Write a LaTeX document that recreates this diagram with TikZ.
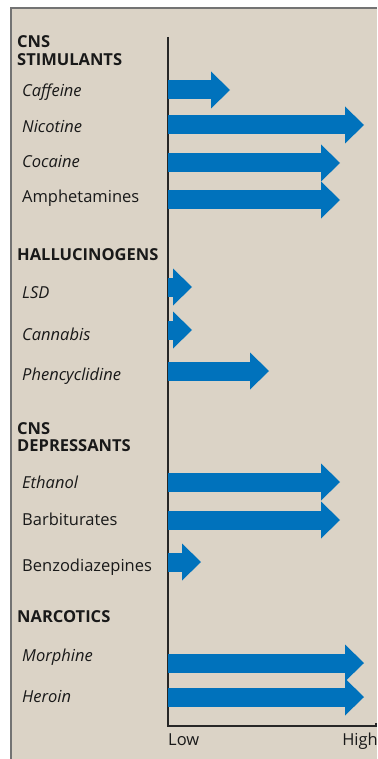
\documentclass[tikz,border=0pt]{standalone}
\usepackage{fontspec}
\setmainfont{Open Sans}
\usepackage{tikz}
\usetikzlibrary{arrows.meta}
\definecolor{panel}{RGB}{219,211,198}
\definecolor{barblue}{RGB}{0,114,188}
\definecolor{ink}{RGB}{25,25,25}
\tikzset{
  hdr/.style={anchor=base west, inner sep=0pt, text=ink, font=\fontsize{16.5}{18}\selectfont\bfseries},
  drug/.style={anchor=base west, inner sep=0pt, text=ink, font=\fontsize{16.5}{18}\selectfont\itshape},
  drugup/.style={anchor=base west, inner sep=0pt, text=ink, font=\fontsize{16.5}{18}\selectfont},
  bar/.style={draw=barblue, line width=19pt, -{Triangle[length=19pt, width=37pt, line width=0pt]}},
  ax/.style={draw=black!85, line width=1.3pt},
  frm/.style={draw=black!55, line width=2pt}
}

\begin{document}
\begin{tikzpicture}[x=1pt, y=-1pt]
  \useasboundingbox (0,0) rectangle (377,759);
  \fill[panel] (11,8) rectangle (377,759);
  \draw[frm] (11,759) -- (11,8) -- (377,8);

  \coordinate (top) at (168,37);
  \coordinate (o) at (168,726);
  \coordinate (xend) at (376,726);
  \draw[ax] (top) -- (o) -- (xend) -- ++(0,-3);
  \node[drugup] (low) at (168,745) {Low};
  \node[drugup, anchor=base east] (high) at (378,745) {High};

  \node[hdr] (stim1) at (17,48) {CNS};
  \node[hdr] (stim2) at (17,66) {STIMULANTS};
  \node[drug] (caf) at (22,96.5) {Caffeine};
  \node[drug] (nic) at (22,133) {Nicotine};
  \node[drug] (coc) at (22,168) {Cocaine};
  \node[drugup] (amp) at (22,203) {Amphetamines};

  \node[hdr] (hal) at (17,260) {HALLUCINOGENS};
  \node[drug] (lsd) at (22,298) {LSD};
  \node[drug] (can) at (22,340.5) {Cannabis};
  \node[drug] (pcp) at (22,380) {Phencyclidine};

  \node[hdr] (dep1) at (17,434) {CNS};
  \node[hdr] (dep2) at (17,451.5) {DEPRESSANTS};
  \node[drug] (eth) at (22,488) {Ethanol};
  \node[drugup] (barb) at (22,525.5) {Barbiturates};
  \node[drugup] (benz) at (22,571.5) {Benzodiazepines};

  \node[hdr] (narc) at (17,622) {NARCOTICS};
  \node[drug] (mor) at (22,661.5) {Morphine};
  \node[drug] (her) at (22,702.5) {Heroin};

  \coordinate (cafE) at (230,90);
  \coordinate (nicE) at (364,125);
  \coordinate (cocE) at (340,163);
  \coordinate (ampE) at (340,200);
  \coordinate (lsdE) at (192,287);
  \coordinate (canE) at (192,330);
  \coordinate (pcpE) at (269,371);
  \coordinate (ethE) at (340,482);
  \coordinate (barbE) at (340,520);
  \coordinate (benzE) at (201,562);
  \coordinate (morE) at (364,663);
  \coordinate (herE) at (364,697);
  \foreach \e in {caf,nic,coc,amp,lsd,can,pcp,eth,barb,benz,mor,her}
    \draw[bar] (o |- \e E) -- (\e E);
\end{tikzpicture}
\end{document}
